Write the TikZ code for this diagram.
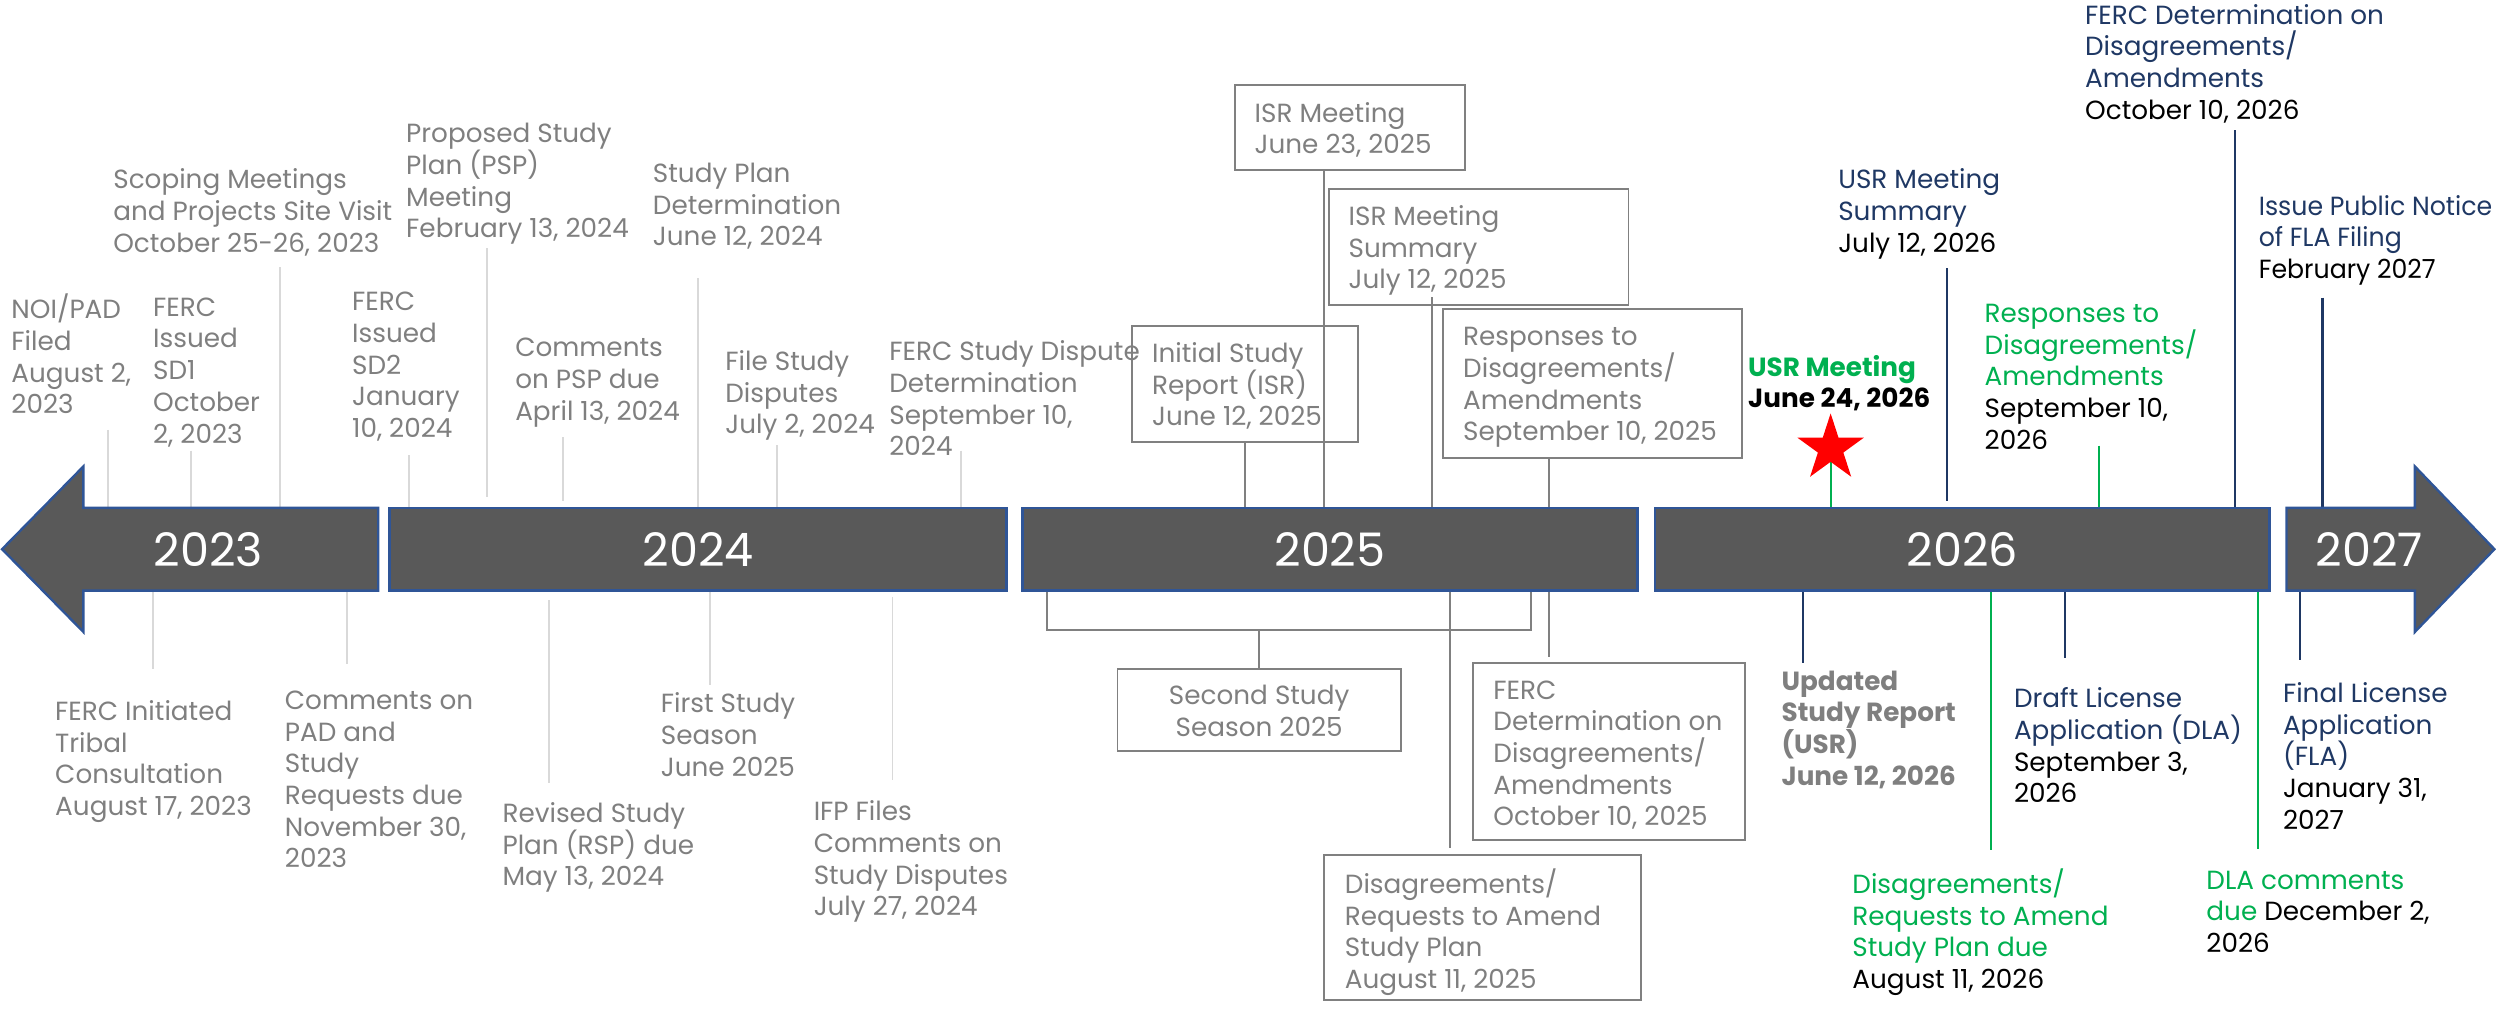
\documentclass[tikz,border=0pt]{standalone}
\usepackage{fontspec}
\setmainfont{Poppins}
\newfontfamily\narrowfont{Poppins}[FakeStretch=0.96]
\usetikzlibrary{shapes.geometric}
\definecolor{txtgray}{HTML}{7F7F7F}
\definecolor{linegray}{HTML}{D9D9D9}
\definecolor{boxgray}{HTML}{808080}
\definecolor{navy}{HTML}{1F3864}
\definecolor{grn}{HTML}{00B050}
\definecolor{barfill}{HTML}{595959}
\definecolor{barline}{HTML}{2F5597}
\definecolor{starred}{HTML}{FF0000}
% fixed first-line height so every label top sits at the same offset
\newcommand\fs{\rule{0pt}{14pt}}
\begin{document}
\begin{tikzpicture}[x=1pt,y=-1pt,
  lbl/.style={anchor=north west, inner sep=0pt, align=left, font=\fontsize{16.5}{19.9}\selectfont},
  glbl/.style={lbl, text=txtgray},
  evbox/.style={draw=boxgray, line width=1.2pt, inner sep=0pt},
  yearbar/.style={fill=barfill, draw=barline, line width=1.5pt},
  yearlbl/.style={text=white, font=\fontsize{29}{30}\selectfont, inner sep=0pt},
  gline/.style={draw=linegray, line width=1pt},
  bline/.style={draw=boxgray, line width=1.2pt},
  nline/.style={draw=navy, line width=1.3pt},
  grline/.style={draw=grn, line width=1.2pt}]
\useasboundingbox (0,0) rectangle (1568,638);

\coordinate (bartop) at (0,319);
\coordinate (barbot) at (0,371);

% ---------- connector ends ----------
\coordinate (noi-e) at (68,270);
\coordinate (sd1-e) at (120,283);
\coordinate (scop-e) at (176,168);
\coordinate (sd2-e) at (257,286);
\coordinate (psp-e) at (306,156);
\coordinate (psp-f) at (306,312);
\coordinate (pspc-e) at (353.7,274.6);
\coordinate (pspc-f) at (353.7,315);
\coordinate (spd-e) at (438.5,174.8);
\coordinate (fsd-e) at (488,279.6);
\coordinate (fsdd-e) at (603.7,283);
\coordinate (trib-e) at (96,420);
\coordinate (padc-e) at (218,417);
\coordinate (rsp-s) at (345,377);
\coordinate (rsp-e) at (345,492);
\coordinate (fss-e) at (446,430);
\coordinate (ifp-s) at (560.7,375);
\coordinate (ifp-e) at (560.7,490);

\coordinate (isrm-x) at (831.5,0);
\coordinate (isrs-e) at (899.4,186.6);
\coordinate (resp-x) at (972.9,0);
\coordinate (disag-x) at (911,0);
\coordinate (brL) at (658,396);
\coordinate (brR) at (962,396);

\coordinate (starc) at (1150,281.7);
\coordinate (usrs-e) at (1223,168.6);
\coordinate (usrs-f) at (1223,315);
\coordinate (resp26-e) at (1318.6,280);
\coordinate (fdet26-e) at (1403.8,81.7);
\coordinate (fla-n-e) at (1459,187);
\coordinate (usr-e) at (1132.4,416.3);
\coordinate (dis26-e) at (1250.8,534);
\coordinate (dla-e) at (1297,413.6);
\coordinate (dlac-e) at (1418.2,533.4);
\coordinate (fla-e) at (1445,414.6);

% ---------- boxes of 2025 ----------
\node[evbox, minimum width=144.5pt, minimum height=53.4pt] (isrm) at (848.25,80.1) {};
\node[evbox, minimum width=188pt, minimum height=72.8pt] (isrs) at (929,155.2) {};
\node[evbox, minimum width=142pt, minimum height=73.1pt] (isr) at (782,241.15) {};
\node[evbox, minimum width=187.9pt, minimum height=93.8pt] (resp) at (1000.55,240.9) {};
\node[evbox, minimum width=178pt, minimum height=51.6pt] (sss) at (791,445.8) {};
\node[evbox, minimum width=170.5pt, minimum height=111.1pt] (fdet) at (1010.75,472.15) {};
\node[evbox, minimum width=198.7pt, minimum height=91pt] (disag) at (931.35,582.5) {};

% ---------- connectors ----------
\draw[gline] (noi-e) -- (noi-e |- bartop);
\draw[gline] (sd1-e) -- (sd1-e |- bartop);
\draw[gline] (scop-e) -- (scop-e |- bartop);
\draw[gline] (sd2-e) -- (sd2-e |- bartop);
\draw[gline] (psp-e) -- (psp-f);
\draw[gline] (pspc-e) -- (pspc-f);
\draw[gline] (spd-e) -- (spd-e |- bartop);
\draw[gline] (fsd-e) -- (fsd-e |- bartop);
\draw[gline] (fsdd-e) -- (fsdd-e |- bartop);
\draw[gline] (trib-e |- barbot) -- (trib-e);
\draw[gline] (padc-e |- barbot) -- (padc-e);
\draw[gline] (rsp-s) -- (rsp-e);
\draw[gline] (fss-e |- barbot) -- (fss-e);
\draw[gline] (ifp-s) -- (ifp-e);

\draw[bline] (isrm-x |- isrm.south) -- (isrm-x |- bartop);
\draw[bline] (isrs-e) -- (isrs-e |- bartop);
\draw[bline] (isr.south) -- (isr.south |- bartop);
\draw[bline] (resp-x |- resp.south) -- (resp-x |- bartop);
\draw[bline] (resp-x |- barbot) -- ([yshift=3pt]resp-x |- fdet.north);
\draw[bline] (disag-x |- barbot) -- ([yshift=4pt]disag-x |- disag.north);
\draw[bline] (brL |- barbot) -- (brL) -- (brR) -- (brR |- barbot);
\draw[bline] (sss.north |- brL) -- (sss.north);

\draw[grline] (starc) -- (starc |- bartop);
\node[star, star points=5, star point ratio=2.618, fill=starred, inner sep=0pt, minimum size=44pt] (star) at (starc) {};
\draw[nline] (usrs-e) -- (usrs-f);
\draw[grline] (resp26-e) -- (resp26-e |- bartop);
\draw[nline] (fdet26-e) -- (fdet26-e |- bartop);
\draw[nline] (fla-n-e) -- (fla-n-e |- bartop);
\draw[nline] (usr-e |- barbot) -- (usr-e);
\draw[grline] (dis26-e |- barbot) -- (dis26-e);
\draw[nline] (dla-e |- barbot) -- (dla-e);
\draw[grline] (dlac-e |- barbot) -- (dlac-e);
\draw[nline] (fla-e |- barbot) -- (fla-e);

% ---------- year bar ----------
\draw[yearbar] (52.4,319) -- (237.6,319) -- (237.6,371) -- (52.4,371) -- (52.4,397) -- (1.3,345) -- (52.4,293) -- cycle;
\node[yearlbl] (y2023) at (131,345) {2023};
\node[yearbar, minimum width=387.4pt, minimum height=52pt, yearlbl] (y2024) at (438.5,345) {2024};
\node[yearbar, minimum width=386.4pt, minimum height=52pt, yearlbl] (y2025) at (835.5,345) {2025};
\node[yearbar, minimum width=386.1pt, minimum height=52pt, yearlbl] (y2026) at (1232.75,345) {2026};
\draw[yearbar] (1436.4,319) -- (1517,319) -- (1517,293) -- (1567,345) -- (1517,397) -- (1517,371) -- (1436.4,371) -- cycle;
\node[yearlbl] (y2027) at (1488.3,345) {2027};

% ---------- grey milestones above ----------
\node[glbl] (noi) at (7,184.5) {\fs NOI/PAD\\Filed\\August 2,\\2023};
\node[glbl] (sd1) at (96,184.5) {\fs FERC\\Issued\\SD1\\October\\2, 2023};
\node[glbl] (scop) at (71,104.5) {\fs Scoping Meetings\\and Projects Site Visit\\October 25-26, 2023};
\node[glbl] (sd2) at (221,181) {\fs FERC\\Issued\\SD2\\January\\10, 2024};
\node[glbl] (psp) at (255,75.5) {\fs Proposed Study\\Plan (PSP)\\Meeting\\February 13, 2024};
\node[glbl] (pspc) at (323.5,210) {\fs Comments\\on PSP due\\April 13, 2024};
\node[glbl] (spd) at (410,100.5) {\fs Study Plan\\Determination\\June 12, 2024};
\node[glbl] (fsd) at (455.5,218.5) {\fs File Study\\Disputes\\July 2, 2024};
\node[glbl] (fsdd) at (558.5,212.5) {\fs FERC Study Dispute\\Determination\\September 10,\\2024};

% ---------- grey milestones below ----------
\node[glbl] (trib) at (34.5,438.5) {\fs FERC Initiated\\Tribal\\Consultation\\August 17, 2023};
\node[glbl] (padc) at (178.8,431.5) {\fs Comments on\\PAD and\\Study\\Requests due\\November 30,\\2023};
\node[glbl] (rsp) at (315.5,502.5) {\fs Revised Study\\Plan (RSP) due\\May 13, 2024};
\node[glbl] (fss) at (415,433.5) {\fs First Study\\Season\\June 2025};
\node[glbl] (ifp) at (511,501.5) {\fs IFP Files\\Comments on\\Study Disputes\\July 27, 2024};

% ---------- text of the 2025 boxes ----------
\node[glbl] (isrm-t) at (788,62.5) {\fs ISR Meeting\\June 23, 2025};
\node[glbl] (isrs-t) at (847,127.5) {\fs ISR Meeting\\Summary\\July 12, 2025};
\node[glbl] (isr-t) at (723.6,213.5) {\fs Initial Study\\Report (ISR)\\June 12, 2025};
\node[glbl] (resp-t) at (919,203) {\fs Responses to\\Disagreements/\\Amendments\\September 10, 2025};
\node[glbl, anchor=north, align=center] (sss-t) at (791,428.5) {\fs Second Study\\Season 2025};
\node[glbl] (fdet-t) at (938,425) {\fs FERC\\Determination on\\Disagreements/\\Amendments\\October 10, 2025};
\node[glbl] (disag-t) at (844.7,545.5) {\fs Disagreements/\\Requests to Amend\\Study Plan\\August 11, 2025};

% ---------- 2026 / 2027 milestones ----------
\node[lbl, text=grn, font=\fontsize{16.5}{19.9}\selectfont\bfseries] (usrm) at (1098,222) {\fs USR Meeting\\\textcolor{black}{June 24, 2026}};
\node[lbl, text=navy] (usrs) at (1154.6,104.5) {\fs USR Meeting\\Summary\\\textcolor{black}{July 12, 2026}};
\node[lbl, text=grn] (resp26) at (1246.6,188.3) {\fs Responses to\\Disagreements/\\Amendments\\\textcolor{black}{September 10,}\\\textcolor{black}{2026}};
\node[lbl, text=navy] (fdet26) at (1309.7,0.9) {\fs FERC Determination on\\Disagreements/\\Amendments\\\textcolor{black}{October 10, 2026}};
\node[lbl, text=navy, font=\narrowfont\fontsize{16.5}{19.9}\selectfont] (notice) at (1418.8,120.9) {\fs Issue Public Notice\\of FLA Filing\\\textcolor{black}{February 2027}};
\node[lbl, text=txtgray, font=\fontsize{16.5}{19.9}\selectfont\bfseries] (usr) at (1119,419.3) {\fs Updated\\Study Report\\(USR)\\June 12, 2026};
\node[lbl, text=grn] (dis26) at (1163.5,545.5) {\fs Disagreements/\\Requests to Amend\\Study Plan due\\\textcolor{black}{August 11, 2026}};
\node[lbl, text=navy] (dla) at (1265,430.5) {\fs Draft License\\Application (DLA)\\\textcolor{black}{September 3,}\\\textcolor{black}{2026}};
\node[lbl, text=grn] (dlac) at (1385.9,544.3) {\fs DLA comments\\due \textcolor{black}{December 2,}\\\textcolor{black}{2026}};
\node[lbl, text=navy] (fla) at (1434,427) {\fs Final License\\Application\\(FLA)\\\textcolor{black}{January 31,}\\\textcolor{black}{2027}};
\end{tikzpicture}
\end{document}
